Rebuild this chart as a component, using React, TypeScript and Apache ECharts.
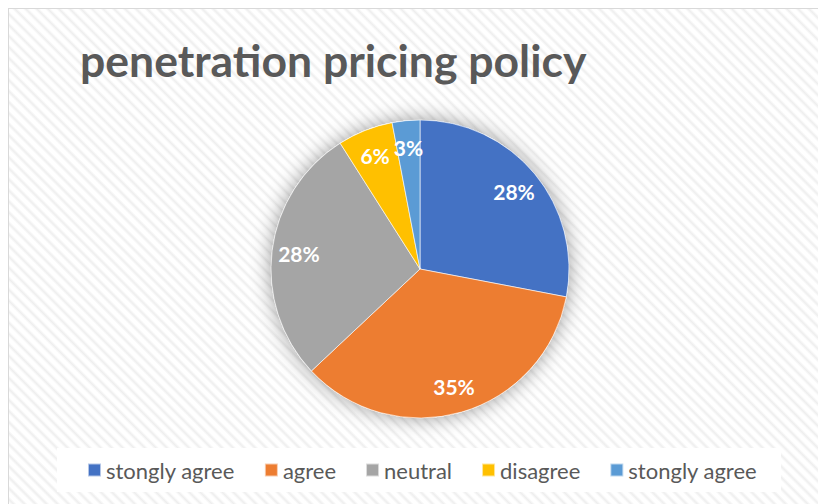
import React, { useEffect, useRef } from "react";
import * as echarts from "echarts";

const title = "penetration pricing policy";
const categories = ["stongly agree", "agree", "neutral", "disagree", "stongly agree"];
const values = [28, 35, 28, 6, 3];
const colors = ["#4472C4", "#ED7D31", "#A5A5A5", "#FFC000", "#5B9BD5"];

const keys = categories.map((_, i) => "c" + i);

export default function App() {
  const ref = useRef<HTMLDivElement>(null);
  useEffect(() => {
    if (!ref.current) return;
    const chart = echarts.init(ref.current, null, { renderer: "svg" });
    const center = [411, 260];
    const radius = 149;
    chart.setOption({
      animation: false,
      backgroundColor: "transparent",
      title: {
        text: title,
        left: 71,
        top: 28,
        padding: 0,
        textStyle: {
          fontFamily: "Lato",
          fontWeight: "bold",
          fontSize: 44.5,
          color: "#595959",
        },
      },
      graphic: [
        {
          type: "rect",
          z: 0,
          shape: { x: 48, y: 439, width: 724, height: 44 },
          style: { fill: "#ffffff" },
        },
      ],
      legend: {
        data: keys,
        left: 78,
        top: 450,
        padding: 0,
        itemWidth: 13,
        itemHeight: 13,
        itemGap: 29,
        icon: "rect",
        selectedMode: false,
        formatter: (name: string) => categories[Number(name.slice(1))],
        textStyle: { fontFamily: "Lato", fontSize: 22, color: "#595959" },
      },
      series: [
        {
          type: "pie",
          silent: true,
          z: 1,
          center,
          radius,
          label: { show: false },
          labelLine: { show: false },
          itemStyle: {
            color: "#ffffff",
            shadowBlur: 20,
            shadowColor: "rgba(0,0,0,0.4)",
          },
          data: [{ value: 1, name: "shadow" }],
        },
        {
          type: "pie",
          z: 2,
          center,
          radius,
          startAngle: 90,
          clockwise: true,
          label: { show: false },
          labelLine: { show: false },
          itemStyle: { borderColor: "rgba(255,255,255,0.6)", borderWidth: 1 },
          data: values.map((v, i) => ({
            value: v,
            name: keys[i],
            itemStyle: { color: colors[i] },
          })),
        },
        {
          type: "pie",
          z: 3,
          silent: true,
          center,
          radius: [90, 148],
          startAngle: 90,
          clockwise: true,
          itemStyle: { color: "rgba(0,0,0,0)" },
          label: {
            show: true,
            position: "inside",
            formatter: "{c}%",
            fontFamily: "Lato",
            fontWeight: "bold",
            fontSize: 21,
            color: "#ffffff",
          },
          labelLine: { show: false },
          data: values.map((v, i) => ({ value: v, name: "l" + i })),
        },
      ],
    });
    return () => chart.dispose();
  }, []);

  const hatch =
    "repeating-linear-gradient(45deg, #ffffff 0px, #ffffff 1.5px, #eeeeee 3.9px, #ffffff 6.3px, #ffffff 7.8px)";

  return (
    <div
      style={{
        position: "fixed",
        left: 0,
        top: 0,
        width: 818,
        height: 504,
        overflow: "hidden",
        background: "#ffffff",
      }}
    >
      <div
        style={{
          position: "absolute",
          left: 8,
          top: 8,
          width: 812,
          height: 498,
          boxSizing: "border-box",
          border: "1px solid #d9d9d9",
          background: hatch,
        }}
      >
        <div ref={ref} style={{ width: 810, height: 496 }} />
      </div>
    </div>
  );
}
